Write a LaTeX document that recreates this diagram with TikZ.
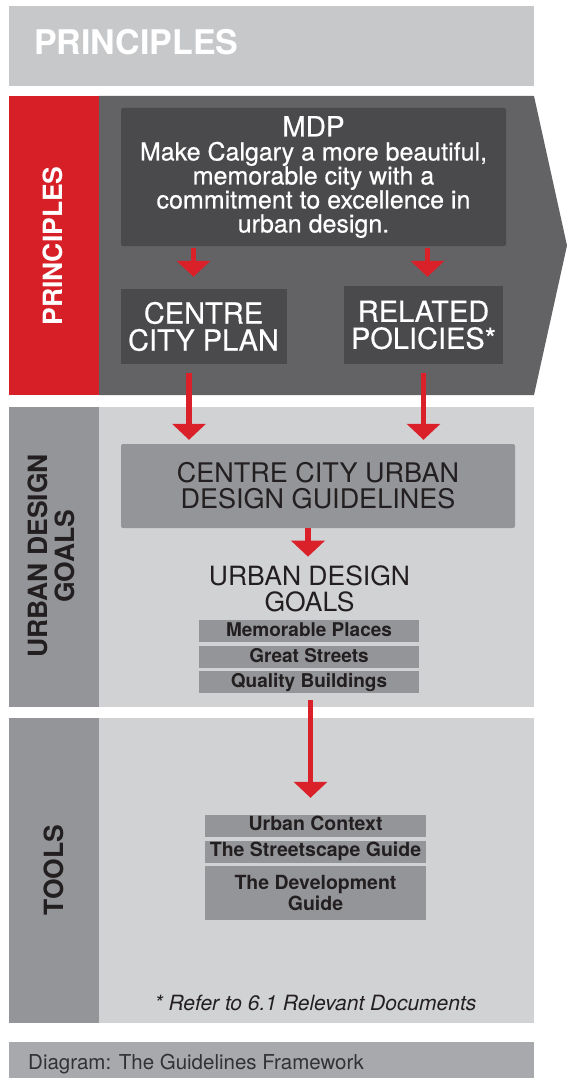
\documentclass[tikz,border=0pt]{standalone}
\usepackage{fontspec}
\setmainfont{TeX Gyre Heros}
\newfontfamily\boxfont{TeX Gyre Heros}[FakeBold=0.5]
\usetikzlibrary{arrows.meta}

\definecolor{bandgray}{RGB}{199,200,202}
\definecolor{signred}{RGB}{215,31,39}
\definecolor{arrowred}{RGB}{218,32,40}
\definecolor{darksec}{RGB}{99,99,101}
\definecolor{darkbox}{RGB}{74,74,76}
\definecolor{midgray}{RGB}{147,149,152}
\definecolor{panelgray}{RGB}{209,210,212}
\definecolor{capgray}{RGB}{167,169,172}
\definecolor{darktext}{RGB}{35,31,32}
\definecolor{captext}{RGB}{50,50,52}

\tikzset{
  sidetitle/.style={rotate=90,align=center,inner sep=0pt,
    font=\bfseries\fontsize{26.5}{27}\selectfont},
  darkbox/.style={fill=darkbox,text=white,align=center,inner sep=0pt},
  greybox/.style={fill=midgray,text=darktext,align=center,inner sep=0pt},
  goalbar/.style={fill=midgray,text=darktext,inner sep=0pt,minimum width=220pt,
    text height=16pt,text depth=6pt,font=\bfseries\fontsize{19}{19}\selectfont},
  toolbar/.style={fill=midgray,text=darktext,inner sep=0pt,minimum width=221pt,
    text height=15pt,text depth=7pt,font=\bfseries\fontsize{19.5}{21}\selectfont}
}

\begin{document}
\begin{tikzpicture}[x=1pt,y=-1pt]
  \useasboundingbox (0,0) rectangle (567,1078);

  % bands
  \fill[bandgray] (9,6) rectangle (534,86);
  \fill[signred] (9,96) rectangle (99,395);
  \fill[darksec] (99,96) -- (534,96) -- (567,245.5) -- (534,395) -- (99,395) -- cycle;
  \fill[midgray] (9,407) rectangle (99,707);
  \fill[panelgray] (99,407) rectangle (534,707);
  \fill[midgray] (9,718) rectangle (99,1023);
  \fill[panelgray] (99,718) rectangle (534,1023);
  \fill[capgray] (9,1042) rectangle (534,1078);

  % titles
  \node[anchor=base west,inner sep=0pt,text=white,
    font=\bfseries\fontsize{34}{34}\selectfont] (ptitle) at (34,55) {PRINCIPLES};
  \node[sidetitle,text=white] (pside) at (52.5,246) {PRINCIPLES};
  \node[sidetitle,text=darktext] (udside) at (51.5,556) {URBAN DESIGN\\GOALS};
  \node[sidetitle,text=darktext] (tside) at (53.5,870) {TOOLS};

  % boxes
  \node[darkbox,rounded corners=2pt,minimum width=385pt,minimum height=138pt,
    font=\boxfont\fontsize{25}{24}\selectfont] (mdp) at (313.5,177)
    {{\fontsize{28}{24}\selectfont MDP}\\Make Calgary a more beautiful,\\memorable city with a\\commitment to excellence in\\urban design.};
  \node[darkbox,minimum width=166pt,minimum height=75pt,
    font=\boxfont\fontsize{29}{27}\selectfont] (ccp) at (203.5,326.5) {CENTRE\\CITY PLAN};
  \node[darkbox,minimum width=159pt,minimum height=78pt,
    font=\boxfont\fontsize{29}{27}\selectfont] (rp) at (423.5,325) {RELATED\\POLICIES*};
  \node[greybox,rounded corners=2pt,minimum width=394pt,minimum height=84pt,
    font=\fontsize{27}{26}\selectfont] (ccudg) at (318,486) {CENTRE CITY URBAN\\DESIGN GUIDELINES};
  \node[align=center,inner sep=0pt,text=darktext,
    font=\fontsize{26.5}{26}\selectfont] (goals) at (309.5,589) {URBAN DESIGN\\GOALS};

  \node[goalbar] (mp) at (309,631) {Memorable Places};
  \node[goalbar] (gs) at (309,657) {Great Streets};
  \node[goalbar] (qb) at (309,682) {Quality Buildings};

  \node[toolbar] (uc) at (315.5,826) {Urban Context};
  \node[toolbar] (ss) at (315.5,852) {The Streetscape Guide};
  \node[toolbar,align=center,minimum height=54pt,text height=,text depth=] (dg) at (315.5,893)
    {The Development\\Guide};

  \node[anchor=base,inner sep=0pt,text=darktext,
    font=\itshape\fontsize{21}{21}\selectfont] (note) at (315.5,1010) {* Refer to 6.1 Relevant Documents};
  \node[anchor=base west,inner sep=0pt,text=captext,
    font=\fontsize{20.5}{20.5}\selectfont] (cap) at (28,1069) {Diagram: The Guidelines Framework};

  % arrows
  \coordinate (x1) at (193.5,0);
  \coordinate (x2) at (427.5,0);
  \coordinate (x3) at (189,0);
  \coordinate (x4) at (423.5,0);
  \coordinate (x5) at (308,0);
  \coordinate (x6) at (310.5,0);
  \begin{scope}[every edge/.style={draw=arrowred,line width=5.5pt,
      -{Triangle[width=33pt,length=16pt]}}]
    \path (mdp.south -| x1) edge[shorten <=2pt,shorten >=12pt] (ccp.north -| x1);
    \path (mdp.south -| x2) edge[shorten <=2pt,shorten >=9pt] (rp.north -| x2);
    \path (ccp.south -| x3) edge[shorten <=9pt,shorten >=4pt] (ccudg.north -| x3);
    \path (rp.south -| x4) edge[shorten <=9pt,shorten >=4pt] (ccudg.north -| x4);
    \path (ccudg.south -| x5) edge[shorten >=9pt] (goals.north -| x5);
    \path (qb.south -| x6) edge[shorten <=7pt,shorten >=17pt] (uc.north -| x6);
  \end{scope}

\end{tikzpicture}
\end{document}
